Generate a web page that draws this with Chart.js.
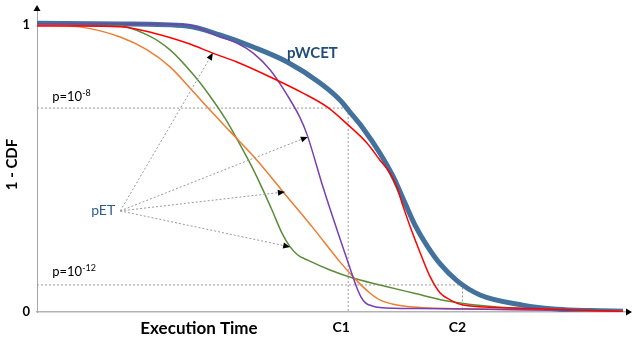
<!DOCTYPE html>
<html>
<head>
<meta charset="utf-8">
<script src="https://cdn.jsdelivr.net/npm/chart.js@4"></script>
<style>
  html, body { margin: 0; padding: 0; background: #fff; }
  #c { display: block; }
</style>
</head>
<body>
<canvas id="c" width="639" height="343"></canvas>
<script>
// Curves. x = execution time (0..100), y = 1 - CDF (0..1)

// pWCET (thick blue envelope)
const wcetX = [0, 14.2, 25.6, 31.2, 36.9, 42.7, 48.3, 51.7, 53.4, 55.6, 58.5, 60.8, 62.8, 64.5, 66.6, 68.8, 71.7, 75.6, 82.9, 88.7, 94.4, 100];
const wcetY = [1.003, 1.0, 0.993, 0.962, 0.92, 0.868, 0.795, 0.736, 0.694, 0.639, 0.552, 0.469, 0.378, 0.302, 0.229, 0.167, 0.108, 0.059, 0.024, 0.01, 0.005, 0.003];

// pET curves
const redX = [0, 7.3, 14.2, 19.8, 25.6, 30, 34.1, 39.8, 45.4, 49.5, 52.9, 56.3, 58.5, 60.2, 61.4, 62.5, 63.7, 65.4, 67.1, 68.8, 70.5, 72.7, 81.2, 100];
const redY = [0.993, 0.993, 0.99, 0.969, 0.934, 0.899, 0.868, 0.816, 0.76, 0.712, 0.653, 0.587, 0.528, 0.483, 0.434, 0.365, 0.295, 0.205, 0.122, 0.066, 0.042, 0.024, 0.014, 0.002];

const purpleX = [0, 19.3, 25.6, 31.2, 34.1, 36.9, 39.8, 42.7, 44.9, 46.1, 48.8, 51.2, 53.4, 54.4, 55.3, 56.1, 57.2, 58.5, 65.4, 79, 100];
const purpleY = [1.0, 1.0, 0.997, 0.955, 0.934, 0.899, 0.84, 0.753, 0.674, 0.615, 0.434, 0.285, 0.153, 0.094, 0.052, 0.031, 0.021, 0.016, 0.012, 0.009, 0.003];

const orangeX = [0, 7.3, 14.2, 18.8, 22.7, 26.1, 29.2, 32.9, 37.5, 42, 47.1, 51.7, 54.6, 56.8, 58.5, 60.6, 64.2, 75.6, 100];
const orangeY = [0.997, 0.99, 0.955, 0.91, 0.851, 0.778, 0.708, 0.628, 0.528, 0.417, 0.292, 0.174, 0.108, 0.066, 0.042, 0.028, 0.017, 0.01, 0.003];

const greenX = [0, 13, 18.8, 22.7, 26.6, 29.5, 32.1, 34.6, 36.7, 38.4, 40.1, 41.8, 43.2, 44.5, 46.1, 50, 53.9, 58.5, 64.2, 70, 78.5, 100];
const greenY = [1.0, 0.997, 0.962, 0.91, 0.826, 0.75, 0.672, 0.583, 0.503, 0.431, 0.354, 0.274, 0.226, 0.198, 0.181, 0.146, 0.118, 0.094, 0.066, 0.038, 0.017, 0.003];

// probability thresholds and the matching execution times
const p8 = 0.708, c1 = 53.1;
const p12 = 0.094, c2 = 72.6;

// pET label point and the arrow targets on each curve
const petPoint = [14.2, 0.351];
const arrowTargets = [[30, 0.899], [46.2, 0.608], [42.3, 0.417], [43.2, 0.226]];

const FONT = "Lato, 'Open Sans', sans-serif";

const toPoints = (xs, ys) => xs.map((x, i) => ({ x: x, y: ys[i] }));

function curve(xs, ys, color, width, order) {
    return {
        data: toPoints(xs, ys),
        borderColor: color,
        borderWidth: width,
        cubicInterpolationMode: "monotone",
        pointRadius: 0,
        showLine: true,
        order: order,
    };
}

function dotted(points, order) {
    return {
        data: points,
        borderColor: "#9a9a9a",
        borderWidth: 1,
        borderDash: [2, 2],
        pointRadius: 0,
        showLine: true,
        tension: 0,
        order: order,
    };
}

const datasets = [
    curve(redX, redY, "#ff0000", 1.5, 2),
    curve(purpleX, purpleY, "#7a3eb1", 1.5, 3),
    curve(orangeX, orangeY, "#ed7d31", 1.5, 3),
    curve(greenX, greenY, "#5b8c3a", 1.5, 3),
    curve(wcetX, wcetY, "#41719c", 5, 5),
    dotted([{ x: 0, y: p8 }, { x: c1, y: p8 }, { x: c1, y: 0 }], 8),
    dotted([{ x: 0, y: p12 }, { x: c2, y: p12 }, { x: c2, y: 0 }], 8),
];
arrowTargets.forEach(t => {
    datasets.push(dotted([{ x: petPoint[0], y: petPoint[1] }, { x: t[0], y: t[1] }], 1));
});

function triangle(ctx, x, y, ang, len, half) {
    ctx.beginPath();
    ctx.moveTo(x, y);
    ctx.lineTo(x - len * Math.cos(ang) + half * Math.sin(ang), y - len * Math.sin(ang) - half * Math.cos(ang));
    ctx.lineTo(x - len * Math.cos(ang) - half * Math.sin(ang), y - len * Math.sin(ang) + half * Math.cos(ang));
    ctx.closePath();
    ctx.fill();
}

const decorations = {
    id: "decorations",
    afterDatasetsDraw(chart) {
        const ctx = chart.ctx;
        const xs = chart.scales.x, ys = chart.scales.y;
        const a = chart.chartArea;
        ctx.save();
        ctx.fillStyle = "#000";

        // arrowheads on the pET pointers
        const sx = xs.getPixelForValue(petPoint[0]), sy = ys.getPixelForValue(petPoint[1]);
        arrowTargets.forEach(t => {
            const tx = xs.getPixelForValue(t[0]), ty = ys.getPixelForValue(t[1]);
            triangle(ctx, tx, ty, Math.atan2(ty - sy, tx - sx), 7, 3);
        });

        // axis arrows
        triangle(ctx, a.left, a.top - 2, -Math.PI / 2, 6, 3.5);
        triangle(ctx, a.right + 4, a.bottom, 0, 6, 3.5);

        // texts
        ctx.fillStyle = "#000";
        ctx.textBaseline = "middle";
        ctx.textAlign = "right";
        ctx.font = "bold 13px " + FONT;
        ctx.fillText("1", a.left - 7, ys.getPixelForValue(1) + 1);
        ctx.fillText("0", a.left - 7, ys.getPixelForValue(0));

        ctx.textAlign = "center";
        ctx.textBaseline = "alphabetic";
        ctx.font = "bold 17px " + FONT;
        ctx.fillText("Execution Time", 199, 334);
        ctx.font = "bold 14px " + FONT;
        ctx.fillText("C1", xs.getPixelForValue(c1) - 7, 332);
        ctx.fillText("C2", xs.getPixelForValue(c2) - 5, 332);

        ctx.save();
        ctx.translate(12, (a.top + a.bottom) / 2 + 5);
        ctx.rotate(-Math.PI / 2);
        ctx.textBaseline = "middle";
        ctx.font = "bold 15px " + FONT;
        ctx.fillText("1 - CDF", 0, 0);
        ctx.restore();

        // probability labels with superscripts
        const pLabel = (exp, y, gap) => {
            const x0 = xs.getPixelForValue(2.6);
            const base = ys.getPixelForValue(y) - gap;
            ctx.textAlign = "left";
            ctx.font = "13px " + FONT;
            ctx.fillText("p=10", x0, base);
            const w = ctx.measureText("p=10").width;
            ctx.font = "9px " + FONT;
            ctx.fillText(exp, x0 + w, base - 5);
        };
        pLabel("-8", p8, 7);
        pLabel("-12", p12, 9);

        ctx.textAlign = "center";
        ctx.textBaseline = "middle";
        ctx.fillStyle = "#1f4e79";
        ctx.font = "bold 15px " + FONT;
        ctx.fillText("pWCET", xs.getPixelForValue(47), ys.getPixelForValue(0.9));

        ctx.textAlign = "right";
        ctx.fillStyle = "#2e5d8c";
        ctx.font = "14px " + FONT;
        ctx.fillText("pET", sx - 5, sy);
        ctx.restore();
    },
};

new Chart(document.getElementById("c"), {
    type: "scatter",
    data: { datasets: datasets },
    options: {
        responsive: false,
        animation: false,
        devicePixelRatio: 1,
        layout: { padding: { top: 7, right: 11, left: 0, bottom: 0 } },
        plugins: { legend: { display: false }, tooltip: { enabled: false } },
        scales: {
            x: {
                type: "linear",
                min: 0,
                max: 100.85,
                grid: { display: false },
                ticks: { display: false },
                border: { color: "#b3b3b3", width: 1.5 },
                afterFit: s => { s.height = 31; },
            },
            y: {
                type: "linear",
                min: 0,
                max: 1.059,
                grid: { display: false },
                ticks: { display: false },
                border: { color: "#a6a6a6", width: 1 },
                afterFit: s => { s.width = 37; },
            },
        },
    },
    plugins: [decorations],
});
</script>
</body>
</html>
